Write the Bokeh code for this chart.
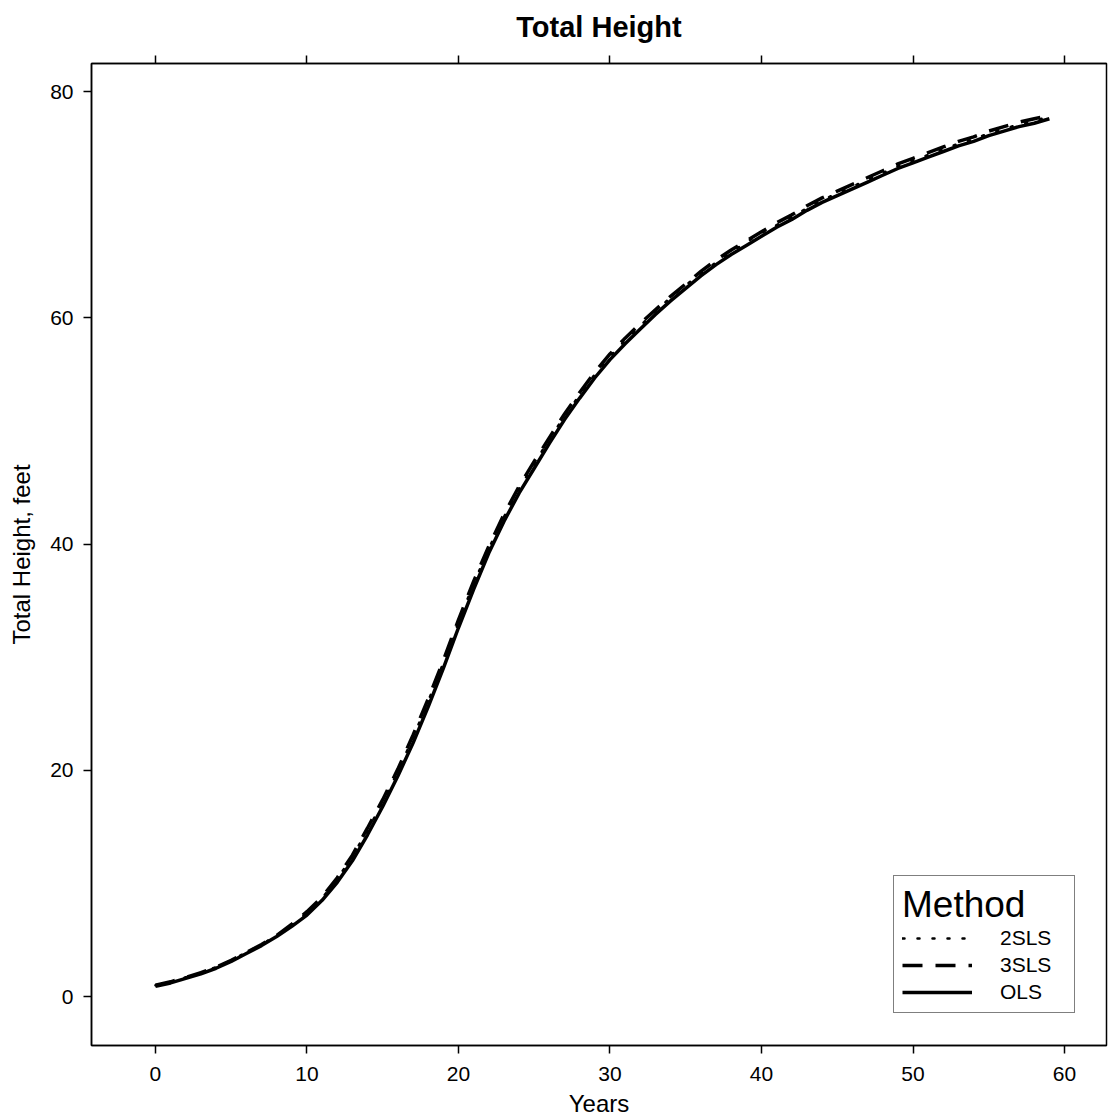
from bokeh.plotting import figure
from bokeh.models import LinearAxis, FixedTicker, Legend, LegendItem, Range1d
from bokeh.embed import file_html
from bokeh.resources import INLINE

years = list(range(60))
ols = [0.9, 1.2, 1.6, 2.0, 2.5, 3.1, 3.8, 4.5, 5.3, 6.2,
       7.2, 8.5, 10.1, 12.0, 14.3, 16.8, 19.5, 22.4, 25.6, 29.0,
       32.6, 36.0, 39.2, 42.0, 44.5, 46.7, 48.9, 51.0, 52.9, 54.7,
       56.3, 57.7, 59.0, 60.3, 61.5, 62.6, 63.7, 64.7, 65.6, 66.4,
       67.2, 68.0, 68.7, 69.5, 70.2, 70.8, 71.4, 72.0, 72.6, 73.2,
       73.7, 74.2, 74.7, 75.2, 75.6, 76.1, 76.5, 76.9, 77.2, 77.6]
sls3 = [1.0, 1.3, 1.7, 2.1, 2.6, 3.2, 3.9, 4.6, 5.4, 6.4,
        7.5, 8.8, 10.5, 12.5, 14.9, 17.4, 20.1, 23.1, 26.3, 29.7,
        33.3, 36.7, 39.8, 42.6, 45.1, 47.3, 49.4, 51.5, 53.4, 55.2,
        56.8, 58.2, 59.5, 60.7, 61.9, 63.0, 64.1, 65.1, 66.0, 66.8,
        67.6, 68.4, 69.1, 69.9, 70.6, 71.2, 71.8, 72.4, 73.0, 73.6,
        74.1, 74.6, 75.1, 75.6, 76.0, 76.5, 76.9, 77.3, 77.6, 77.9]
sls2 = [1.0, 1.3, 1.7, 2.1, 2.6, 3.2, 3.9, 4.6, 5.4, 6.3,
        7.4, 8.7, 10.4, 12.4, 14.7, 17.2, 19.9, 22.9, 26.1, 29.5,
        33.1, 36.5, 39.6, 42.4, 44.9, 47.1, 49.3, 51.3, 53.2, 55.0,
        56.6, 58.0, 59.3, 60.6, 61.8, 62.9, 63.9, 64.9, 65.8, 66.7,
        67.5, 68.2, 68.9, 69.7, 70.4, 71.0, 71.6, 72.2, 72.8, 73.4,
        73.9, 74.4, 74.9, 75.4, 75.8, 76.3, 76.7, 77.1, 77.4, 77.8]
x_ticks = [0, 10, 20, 30, 40, 50, 60]
y_ticks = [0, 20, 40, 60, 80]
labels = ["2SLS", "3SLS", "OLS"]

FONT = "Liberation Sans"

p = figure(frame_width=1015, frame_height=982,
           x_range=Range1d(-4.22, 62.77), y_range=Range1d(-4.33, 82.48),
           output_backend="svg", toolbar_location=None,
           min_border_left=91, min_border_right=3, min_border_top=62, min_border_bottom=5,
           x_axis_label="Years", y_axis_label="Total Height, feet")

p.title.text = "Total Height"
p.title.align = "center"
p.title.text_font = FONT
p.title.text_font_size = "29px"
p.title.text_font_style = "bold"
p.title.text_color = "black"
p.title.standoff = 21
p.title.vertical_align = "top"

p.xgrid.visible = False
p.ygrid.visible = False
p.outline_line_color = "black"
p.outline_line_width = 1.5
p.background_fill_color = "white"
p.border_fill_color = "white"

for ax, ticks in ((p.xaxis[0], x_ticks), (p.yaxis[0], y_ticks)):
    ax.ticker = FixedTicker(ticks=ticks)
    ax.major_tick_in = 0
    ax.major_tick_out = 8
    ax.minor_tick_out = 0
    ax.minor_tick_in = 0
    ax.major_tick_line_width = 1.5
    ax.major_tick_line_color = "black"
    ax.axis_line_color = "black"
    ax.axis_line_width = 1.5
    ax.major_label_text_font = FONT
    ax.major_label_text_font_size = "21px"
    ax.major_label_text_color = "black"
    ax.axis_label_text_font = FONT
    ax.axis_label_text_font_size = "24px"
    ax.axis_label_text_font_style = "normal"
    ax.axis_label_text_color = "black"

p.xaxis[0].major_label_standoff = 13
p.xaxis[0].axis_label_standoff = 6
p.yaxis[0].major_label_standoff = 10
p.yaxis[0].axis_label_standoff = 12

top = LinearAxis(ticker=FixedTicker(ticks=x_ticks), major_tick_in=0, major_tick_out=8,
                 minor_tick_in=0, minor_tick_out=0, major_tick_line_width=1.5,
                 axis_line_color="black", axis_line_width=1.5,
                 major_label_overrides={t: "" for t in x_ticks}, major_label_standoff=0)
p.add_layout(top, "above")

r2 = p.line(years, sls2, line_color="black", line_width=2.5, line_dash="2 13", line_cap="round")
r3 = p.line(years, sls3, line_color="black", line_width=3.5, line_dash="20 13")
r1 = p.line(years, ols, line_color="black", line_width=3.5)

legend = Legend(items=[LegendItem(label=labels[0], renderers=[r2]),
                       LegendItem(label=labels[1], renderers=[r3]),
                       LegendItem(label=labels[2], renderers=[r1])],
                title="Method", location=(802, 32),
                title_text_font=FONT, title_text_font_size="37px", title_text_font_style="normal",
                title_text_color="black", title_standoff=0, title_text_align="center",
                label_text_font=FONT, label_text_font_size="21px", label_text_color="black",
                glyph_width=70, glyph_height=22, label_height=22, label_standoff=28,
                label_width=66, spacing=3, padding=8, margin=0,
                border_line_color="black", border_line_width=1.5,
                background_fill_color="white", background_fill_alpha=1.0)
p.add_layout(legend)

open("out.html", "w").write(file_html(p, INLINE))
